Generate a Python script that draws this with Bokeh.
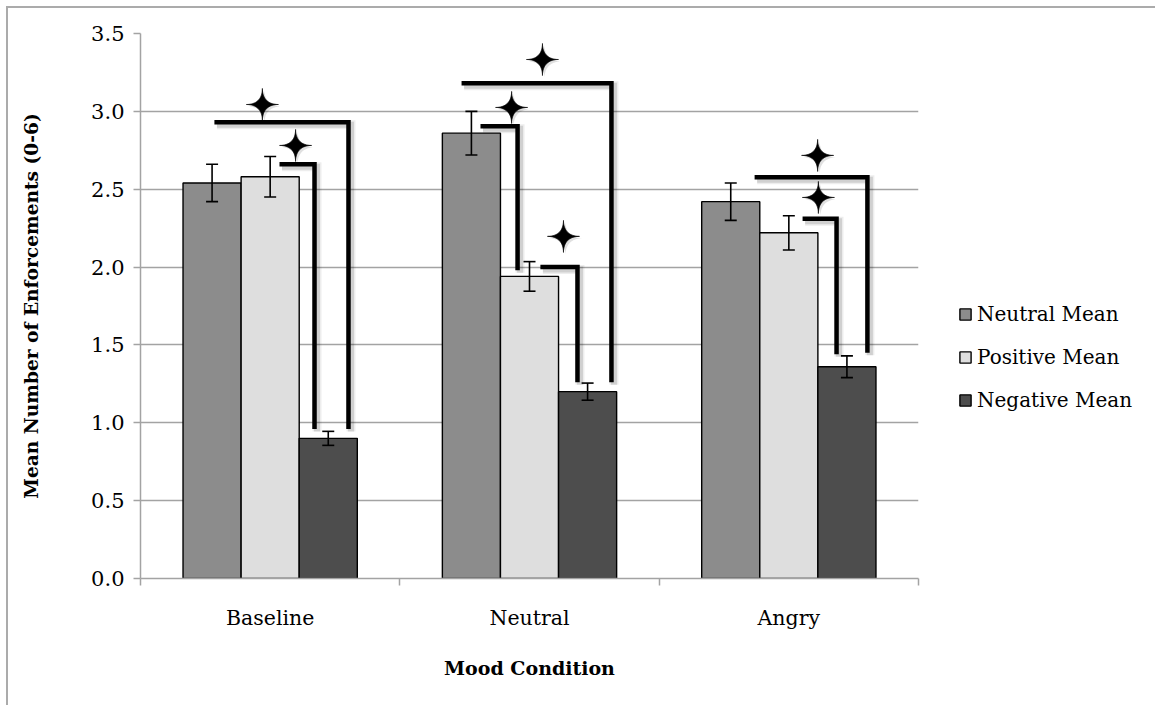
import numpy as np
from bokeh.plotting import figure
from bokeh.models import (ColumnDataSource, Whisker, TeeHead, FixedTicker,
                          Legend, LegendItem, NumeralTickFormatter)
from bokeh.embed import file_html
from bokeh.resources import INLINE

# ---- data -------------------------------------------------------------
conditions = ["Baseline", "Neutral", "Angry"]
series_names = ["Neutral Mean", "Positive Mean", "Negative Mean"]
neutral_mean = [2.54, 2.86, 2.42]
positive_mean = [2.58, 1.94, 2.22]
negative_mean = [0.90, 1.20, 1.36]
neutral_err = [0.12, 0.14, 0.12]
positive_err = [0.13, 0.095, 0.11]
negative_err = [0.045, 0.055, 0.07]
y_ticks = [0.0, 0.5, 1.0, 1.5, 2.0, 2.5, 3.0, 3.5]

# significance brackets (x in category units, y in scale units)
bracket_left = [0.285, 0.536, 1.238, 1.311, 1.542, 2.368, 2.553]
bracket_right = [0.802, 0.671, 1.816, 1.454, 1.685, 2.803, 2.684]
bracket_top = [2.93, 2.66, 3.18, 2.905, 2.00, 2.577, 2.31]
bracket_bottom = [0.96, 0.96, 1.26, 1.98, 1.26, 1.45, 1.44]
star_x = [0.470, 0.598, 1.550, 1.431, 1.631, 2.611, 2.614]
star_y = [3.044, 2.781, 3.333, 3.025, 2.197, 2.717, 2.447]

# ---- styling ------------------------------------------------------------
colors = ["#8c8c8c", "#dedede", "#4d4d4d"]
FONT = "DejaVu Serif"
GRID = "#a3a3a3"
FRAME_W, FRAME_H = 778, 545
Y_MAX = 3.5
BAR_W = 0.224

px_x = FRAME_W / len(conditions)   # pixels per category unit
px_y = FRAME_H / Y_MAX             # pixels per value unit

p = figure(frame_width=FRAME_W, frame_height=FRAME_H,
           x_range=(0, len(conditions)), y_range=(0, Y_MAX),
           output_backend="svg", toolbar_location=None,
           min_border_left=132, min_border_right=237,
           min_border_top=25, min_border_bottom=127)
p.styles = {"margin-left": "6px", "margin-top": "6px",
            "border-left": "2px solid #ababab",
            "border-top": "2px solid #ababab"}
p.outline_line_color = None
p.background_fill_color = "white"
p.border_fill_color = "white"

# ---- bars + error bars ---------------------------------------------------
means = [neutral_mean, positive_mean, negative_mean]
errs = [neutral_err, positive_err, negative_err]
centers = np.arange(len(conditions)) + 0.5
renderers = []
for k in range(3):
    xs = centers + (k - 1) * BAR_W
    m = np.array(means[k])
    e = np.array(errs[k])
    src = ColumnDataSource(dict(x=xs, top=m, upper=m + e, lower=m - e))
    r = p.vbar(x="x", top="top", bottom=0, width=BAR_W, source=src,
               fill_color=colors[k], line_color="black", line_width=1.4)
    renderers.append(r)
    w = Whisker(source=src, base="x", upper="upper", lower="lower",
                line_color="black", line_width=1.6, level="overlay",
                upper_head=TeeHead(size=12, line_width=1.6, line_color="black"),
                lower_head=TeeHead(size=12, line_width=1.6, line_color="black"))
    p.add_layout(w)

# ---- significance brackets with soft shadow ---------------------------
def bracket_paths(dx=0.0, dy=0.0):
    xs, ys = [], []
    for l, r, t, b in zip(bracket_left, bracket_right, bracket_top, bracket_bottom):
        xs.append([l + dx, r + dx, r + dx])
        ys.append([t + dy, t + dy, b + dy])
    return xs, ys

sx, sy = bracket_paths(2.5 / px_x, -2.5 / px_y)
p.multi_line(sx, sy, line_color="black", line_alpha=0.07, line_width=9,
             line_join="miter")
p.multi_line(sx, sy, line_color="black", line_alpha=0.12, line_width=6,
             line_join="miter")
bx, by = bracket_paths()
p.multi_line(bx, by, line_color="black", line_width=4.5, line_join="miter",
             line_cap="butt")

# four-pointed concave stars
def star_shapes(cx, cy, radius_px=16, dx=0.0, dy=0.0, power=3.9):
    t = np.linspace(0, 2 * np.pi, 129)
    c, s = np.cos(t), np.sin(t)
    ux = np.sign(c) * np.abs(c) ** power
    uy = np.sign(s) * np.abs(s) ** power
    xs = [list(x0 + dx + ux * radius_px / px_x) for x0 in cx]
    ys = [list(y0 + dy + uy * radius_px / px_y) for y0 in cy]
    return xs, ys

shx, shy = star_shapes(star_x, star_y, 17, 2 / px_x, -2 / px_y)
p.patches(shx, shy, fill_color="black", fill_alpha=0.12, line_color=None)
stx, sty = star_shapes(star_x, star_y)
p.patches(stx, sty, fill_color="black", line_color="black", line_width=0.8)

# ---- axes ---------------------------------------------------------------
p.yaxis.ticker = FixedTicker(ticks=y_ticks)
p.yaxis.formatter = NumeralTickFormatter(format="0.0")
p.yaxis.axis_line_color = GRID
p.yaxis.axis_line_width = 1.5
p.yaxis.major_tick_line_color = GRID
p.yaxis.major_tick_line_width = 1.5
p.yaxis.major_tick_out = 7
p.yaxis.major_tick_in = 0
p.yaxis.minor_tick_line_color = None
p.yaxis.major_label_standoff = 9
p.yaxis.major_label_text_font = FONT
p.yaxis.major_label_text_font_size = "21px"
p.yaxis.major_label_text_color = "black"
p.yaxis.axis_label = "Mean Number of Enforcements (0-6)"
p.yaxis.axis_label_text_font = FONT
p.yaxis.axis_label_text_font_style = "bold"
p.yaxis.axis_label_text_font_size = "18.6px"
p.yaxis.axis_label_text_color = "black"
p.yaxis.axis_label_standoff = 46

p.xaxis.ticker = FixedTicker(ticks=list(centers),
                             minor_ticks=list(range(len(conditions) + 1)))
p.xaxis.major_label_overrides = {float(c): n for c, n in zip(centers, conditions)}
p.xaxis.axis_line_color = GRID
p.xaxis.axis_line_width = 1.5
p.xaxis.major_tick_line_color = None
p.xaxis.major_tick_out = 0
p.xaxis.major_tick_in = 0
p.xaxis.minor_tick_line_color = GRID
p.xaxis.minor_tick_line_width = 1.5
p.xaxis.minor_tick_out = 7
p.xaxis.minor_tick_in = 0
p.xaxis.major_label_standoff = 20
p.xaxis.major_label_text_font = FONT
p.xaxis.major_label_text_font_size = "20.5px"
p.xaxis.major_label_text_color = "black"
p.xaxis.axis_label = "Mood Condition"
p.xaxis.axis_label_text_font = FONT
p.xaxis.axis_label_text_font_style = "bold"
p.xaxis.axis_label_text_font_size = "19px"
p.xaxis.axis_label_text_color = "black"
p.xaxis.axis_label_standoff = 24

p.xgrid.visible = False
p.ygrid.ticker = FixedTicker(ticks=y_ticks)
p.ygrid.grid_line_color = GRID
p.ygrid.grid_line_width = 1.5

# ---- legend (right-hand panel) -------------------------------------------
legend = Legend(items=[LegendItem(label=n, renderers=[r])
                       for n, r in zip(series_names, renderers)],
                location=(40, 166), orientation="vertical",
                glyph_width=14, glyph_height=14, label_standoff=5,
                label_height=22, spacing=19, padding=0, margin=0,
                border_line_color=None, background_fill_alpha=0,
                label_text_font=FONT, label_text_font_size="20px",
                label_text_color="black")
p.add_layout(legend, "right")

open("out.html", "w").write(file_html(p, INLINE))
